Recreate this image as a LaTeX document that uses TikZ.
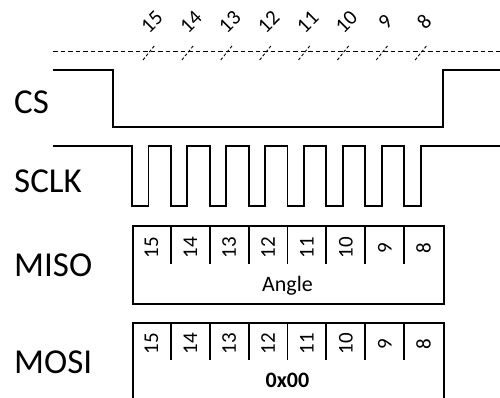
\documentclass[tikz,border=0pt]{standalone}
\usepackage{fontspec}
\setmainfont{Carlito}
\begin{document}
\begin{tikzpicture}[x=1pt,y=-1pt,
  sig/.style={line width=1.8pt},
  boxst/.style={draw,line width=1.8pt,minimum width=311pt,anchor=north west,inner sep=0pt},
  lbl/.style={font=\fontsize{35}{37}\selectfont,anchor=base west,inner sep=0pt},
  bitnum/.style={font=\fontsize{21}{23}\selectfont,rotate=90,inner sep=0pt},
  topnum/.style={font=\fontsize{21}{23}\selectfont,rotate=45,inner sep=0pt},
  slash/.style={line width=0.9pt,dash pattern=on 3pt off 2pt}]
\useasboundingbox (0,0) rectangle (500,398);
% reference dashed line
\draw[line width=0.9pt,dash pattern=on 4.5pt off 3pt] (53,51) -- (500,51);
\foreach \n [count=\k from 0] in {15,14,13,12,11,10,9,8}{
  \pgfmathsetmacro{\tx}{132+38.875*\k+17}
  \draw[slash] (\tx-6,60) -- (\tx+6,45);
  \node[topnum] (t\n) at (\tx+3,22) {\n};
}
% labels
\node[lbl] (cs) at (14,114) {CS};
\node[lbl] (sclk) at (14,192) {SCLK};
\node[lbl] (misol) at (14,276) {MISO};
\node[lbl] (mosil) at (14,373) {MOSI};
% CS waveform
\draw[sig] (53,70) -- (113,70) -- (113,127) -- (443,127) -- (443,70) -- (500,70);
% SCLK waveform
\draw[sig] (53,146) \foreach \k in {0,...,7}{ -- ({132+38.875*\k},146) -- ++(0,60) -- ++(16.5,0) -- ++(0,-60) } -- (500,146);
% data boxes
\node[boxst,minimum height=78pt] (miso) at (132,225) {};
\node[boxst,minimum height=84pt] (mosi) at (132,322) {};
\foreach \k in {1,...,7}{
  \draw[sig] (miso.north west) ++(38.875*\k,0) -- ++(0,39);
  \draw[sig] (mosi.north west) ++(38.875*\k,0) -- ++(0,38);
}
\foreach \n [count=\k from 0] in {15,14,13,12,11,10,9,8}{
  \node[bitnum] (a\n) at ({132+38.875*(\k+0.5)},248) {\n};
  \node[bitnum] (b\n) at ({132+38.875*(\k+0.5)},344) {\n};
}
\node[font=\fontsize{22}{24}\selectfont,anchor=base,inner sep=0pt] (angle) at (287.5,291) {Angle};
\node[font=\fontsize{22}{24}\selectfont\bfseries,anchor=base,inner sep=0pt] (val) at (287.5,387.5) {0x00};
\end{tikzpicture}
\end{document}
